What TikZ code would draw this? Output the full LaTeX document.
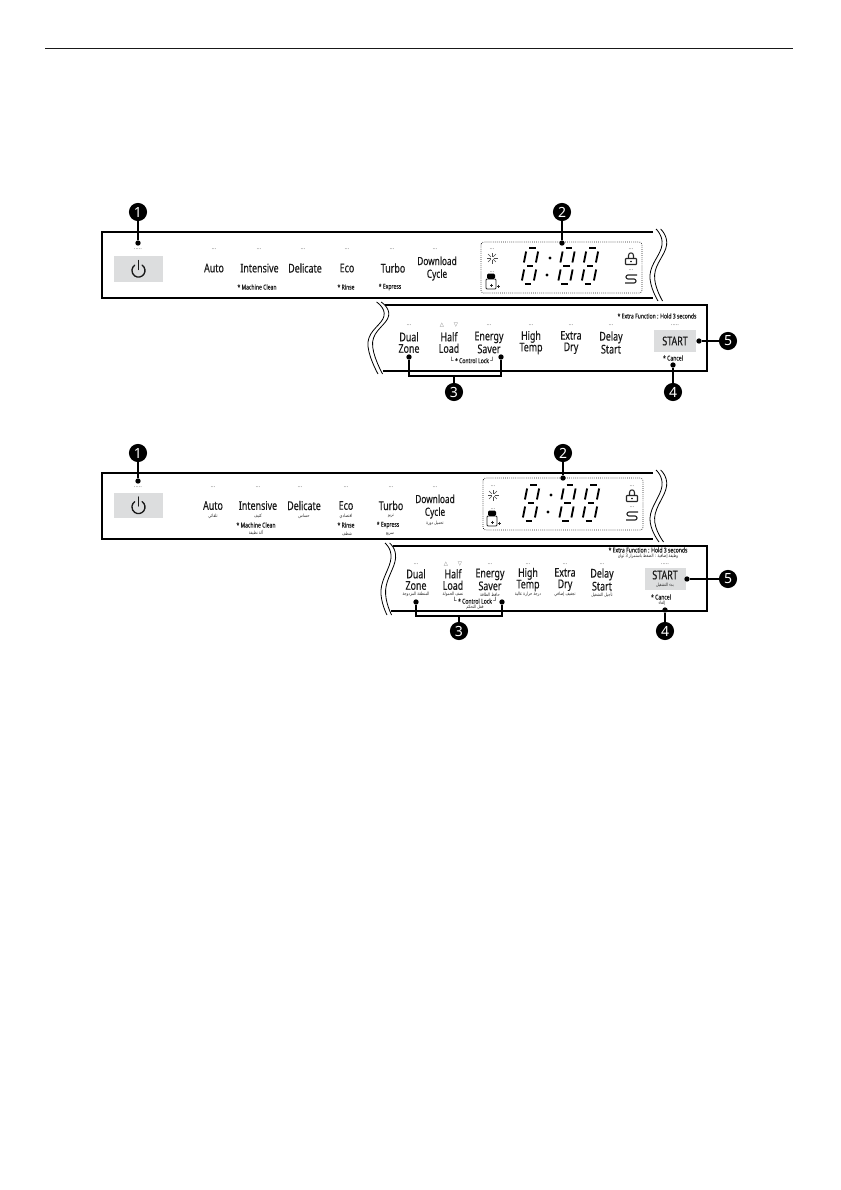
\documentclass[tikz,border=0pt]{standalone}
\usepackage{fontspec}
\setmainfont{Noto Sans}
\newfontfamily\cond[FakeStretch=0.74,FakeBold=0.25]{Noto Sans}
\newfontfamily\condsub[FakeStretch=0.76,FakeBold=0.1]{Noto Sans}
\newfontfamily\bubfont{Noto Sans}
\newfontfamily\arabicfont[Script=Arabic,FakeStretch=0.8]{DejaVu Sans}
\newfontfamily\symfont{DejaVu Sans}
\TeXXeTstate=1
\newcounter{nn}
\definecolor{boxgray}{HTML}{DCDDDE}
\definecolor{dotgray}{HTML}{6A6A6A}
\tikzset{
  lab/.style={inner sep=0pt,outer sep=0pt,align=center,font=\cond\fontsize{9pt}{8.6pt}\selectfont,text=black!90},
  sublab/.style={inner sep=0pt,outer sep=0pt,align=center,font=\condsub\fontsize{5pt}{5pt}\selectfont,text=black!90},
  arlab/.style={inner sep=0pt,outer sep=0pt,align=center,font=\arabicfont\fontsize{3.4pt}{4pt}\selectfont,text=black!85},
  dotlab/.style={inner sep=0pt,outer sep=0pt,font=\fontsize{4.5pt}{4.5pt}\selectfont,text=dotgray},
  bubble/.style={circle,fill=black,text=white,inner sep=0pt,minimum size=13.6pt,font=\bubfont\bfseries\fontsize{10.5pt}{10.5pt}\selectfont},
  leaddot/.style={circle,fill=black,inner sep=0pt,minimum size=4pt},
  leader/.style={line width=0.85pt,black},
  panel/.style={line width=0.8pt,black},
  wavy/.style={line width=0.6pt,black},
  dashbox/.style={line width=0.55pt,densely dotted,rounded corners=2pt,black!85},
  seg/.style={line width=1.4pt,black},
  icon/.style={line width=0.45pt,black!85},
  graybox/.style={fill=boxgray,draw=none,inner sep=0pt,outer sep=0pt}
}
\newcommand\Lb[3]{\stepcounter{nn}\node[lab] (l\thenn) at (#1,#2) {#3};}
\newcommand\Sb[3]{\stepcounter{nn}\node[sublab] (s\thenn) at (#1,#2) {#3};}
\newcommand\Ab[3]{\stepcounter{nn}\node[arlab] (a\thenn) at (#1,#2) {#3};}
\newcommand\Db[3]{\stepcounter{nn}\node[dotlab] (d\thenn) at (#1,#2) {#3};}
\newcommand\Tri[2]{\stepcounter{nn}\node[dotlab,font=\symfont\fontsize{4pt}{4pt}\selectfont] (d\thenn) at (#1,325) {△};\stepcounter{nn}\node[dotlab,font=\symfont\fontsize{4pt}{4pt}\selectfont] (d\thenn) at (#2,325) {▽};}
\newcommand\TriB[2]{\stepcounter{nn}\node[dotlab,font=\symfont\fontsize{4pt}{4pt}\selectfont] (d\thenn) at (#1,564) {△};\stepcounter{nn}\node[dotlab,font=\symfont\fontsize{4pt}{4pt}\selectfont] (d\thenn) at (#2,564) {▽};}
\newcommand\Wave[1]{%
  \foreach \s in {0,4.6}{
    \draw[wavy,shift={(\s,0)}] plot[smooth,tension=0.75] coordinates {#1};
  }}
\newcommand\SegDigit[2]{% centre x, top y
  \begin{scope}[shift={(#1,#2)}]
    \draw[seg] (-1,0)--(5.5,0);
    \draw[seg] (-3.2,18)--(3.2,18);
    \draw[seg] (-5.5,36)--(1,36);
    \draw[seg] (-3.9,3.5)--(-6.1,14.5);
    \draw[seg] (8.1,3.5)--(5.9,14.5);
    \draw[seg] (-5.9,21.5)--(-8.1,32.5);
    \draw[seg] (6.1,21.5)--(3.9,32.5);
  \end{scope}}
\newcommand\Display[2]{% offset x,y relative to the first panel
  \begin{scope}[shift={(#1,#2)}]
    \SegDigit{530}{248}\SegDigit{566.5}{248}\SegDigit{590}{248}
    \fill (550,258) circle (1.6);
    \fill (547,275) circle (1.6);
    % sun
    \foreach \a in {0,45,...,315}{\draw[icon,black!70] (492,258)++(\a:1.5)--++(\a:4);}
    \Db{492}{249}{...}
    % tub
    \Db{492}{272}{...}
    \draw[icon,line width=0.7pt,rounded corners=0.8] (486,279)--(486,289)--(496,289)--(496,279)--cycle;
    \fill[rounded corners=1] (487,273.5) rectangle (495,279);
    \draw[icon] (490,285)--(493,285) (491.5,283.5)--(491.5,286.5);
    \draw[icon,line width=0.7pt] (497,286)--(500,286) (498.5,284.5)--(498.5,287.5);
    % lock
    \Db{631}{249}{...}
    \draw[icon,line width=0.8pt,rounded corners=0.5] (625.5,258.5)--(625.5,264.5)--(636.5,264.5)--(636.5,258.5)--cycle;
    \draw[icon,line width=0.8pt] (628.5,258.5)--(628.5,255.5) .. controls (628.5,252) and (633.5,252) .. (633.5,255.5)--(633.5,258.5);
    \fill (631,261.5) circle (0.8);
    % S arrows
    \Db{631}{270}{...}
    \draw[icon,line width=0.85pt,rounded corners=1.5] (637,275)--(626,275)--(626,279)--(636,279)--(636,283)--(625,283);
  \end{scope}}
\newcommand\Power[2]{%
  \draw[line width=1pt,line cap=round,black!90] (#1+3.7,#2-5.3) arc[start angle=55,end angle=-235,radius=4.9pt];
  \draw[line width=1pt,line cap=round,black!90] (#1,#2-10)--(#1,#2-1);}
\begin{document}
\begin{tikzpicture}[x=0.75pt,y=-0.75pt]
\useasboundingbox (0,0) rectangle (840,1190);
\fill[white] (0,0) rectangle (840,1190);
\draw[line width=0.75pt,black!90] (45,48)--(793,48);

%%% ---------- first pair of panels ----------
\draw[panel] (653,232)--(102,232)--(102,298)--(653,298);
\Wave{(656,229)(662,245)(650,275)(658,301)}
\node[graybox,minimum width=36.75pt,minimum height=19.5pt] (pow1) at (138.5,269) {};
\Power{138.5}{270.5}
\Db{138}{249}{.....}
\Lb{214}{268}{Auto}
\Lb{259.5}{268}{Intensive}
\Lb{305}{268}{Delicate}
\Lb{347}{268}{Eco}
\Lb{393}{268}{Turbo}
\node[lab,font=\cond\fontsize{8.4pt}{9.6pt}\selectfont] (dl1) at (437,268.5) {Download\\Cycle};
\Db{214}{249}{...}\Db{259}{249}{...}\Db{303}{249}{...}\Db{347}{249}{...}\Db{392}{249}{...}\Db{435}{249}{...}
\Sb{257}{287}{* Machine Clean}
\Sb{346}{287}{* Rinse}
\Sb{390}{287}{* Express}
\draw[dashbox] (481,242) rectangle (642,293);
\Display{0}{0}
\node[bubble] (b1a) at (138,212) {1};
\node[leaddot] (p1a) at (138,243) {};
\draw[leader] (b1a)--(p1a);
\node[bubble] (b2a) at (562,212) {2};
\node[leaddot] (p2a) at (562,243) {};
\draw[leader] (b2a)--(p2a);

\draw[panel] (385,305)--(707,305)--(707,371)--(383,371);
\Wave{(376.5,302)(384,316)(368,342)(378,374)}
\node[graybox,minimum width=31.5pt,minimum height=16.5pt] (st1) at (675,341) {};
\Lb{675}{341}{START}
\Lb{409}{342.5}{Dual\\Zone}
\Lb{449}{342.5}{Half\\Load}
\Lb{489}{342.5}{Energy\\Saver}
\Lb{531}{342.5}{High\\Temp}
\Lb{571}{342.5}{Extra\\Dry}
\Lb{611}{342.5}{Delay\\Start}
\Db{409}{325}{...}\Tri{442}{456}\Db{489}{325}{...}\Db{531}{325}{...}\Db{571}{325}{...}\Db{611}{325}{...}\Db{675}{325}{.....}
\Sb{657}{316}{* Extra Function : Hold 3 seconds}
\Sb{472}{360}{{\symfont└} * Control Lock {\symfont┘}}
\Sb{673}{358}{* Cancel}
\node[bubble] (b3a) at (454,392) {3};
\node[leaddot] (p3a) at (409,357) {};
\node[leaddot] (p3b) at (501,357) {};
\coordinate (j3a) at (454,376);
\draw[leader] (p3a)|-(j3a)-|(p3b);
\draw[leader] (j3a)--(b3a);
\node[bubble] (b4a) at (673,392) {4};
\node[leaddot] (p4a) at (673,365) {};
\draw[leader] (b4a)--(p4a);
\node[bubble] (b5a) at (728,341) {5};
\node[leaddot] (p5a) at (699,341) {};
\draw[leader] (b5a)--(p5a);

%%% ---------- second pair of panels ----------
\draw[panel] (653,473)--(102,473)--(102,539)--(653,539);
\Wave{(656,470)(662,486)(650,518)(659,542)}
\node[graybox,minimum width=36.75pt,minimum height=18.75pt] (pow2) at (138.5,505.5) {};
\Power{138.5}{507}
\Db{138}{487}{.....}
\Lb{213}{505.5}{Auto}
\Lb{258}{505.5}{Intensive}
\Lb{304}{505.5}{Delicate}
\Lb{346}{505.5}{Eco}
\Lb{391}{505.5}{Turbo}
\node[lab,font=\cond\fontsize{8.4pt}{9.6pt}\selectfont] (dl2) at (435,506.5) {Download\\Cycle};
\Db{213}{487}{...}\Db{258}{487}{...}\Db{300}{487}{...}\Db{346}{487}{...}\Db{391}{487}{...}\Db{435}{487}{...}
\Ab{213}{516}{\beginR تلقائي\endR}
\Ab{258}{516}{\beginR كثيف\endR}
\Ab{304}{516}{\beginR حساس\endR}
\Ab{346}{516}{\beginR اقتصادي\endR}
\Ab{391}{516}{\beginR تربو\endR}
\Ab{435}{523}{\beginR تحميل دورة\endR}
\Sb{256}{525}{* Machine Clean}
\Ab{256}{533}{\beginR آلة نظيفة\endR}
\Sb{346}{525}{* Rinse}
\Ab{347}{534}{\beginR شطف\endR}
\Sb{388}{525}{* Express}
\Ab{390}{534}{\beginR سريع\endR}
\draw[dashbox] (483,478) rectangle (643,530);
\Display{1}{237}
\node[bubble] (b1b) at (138,453) {1};
\node[leaddot] (p1b) at (138,481) {};
\draw[leader] (b1b)--(p1b);
\node[bubble] (b2b) at (563,453) {2};
\node[leaddot] (p2b) at (563,478) {};
\draw[leader] (b2b)--(p2b);

\draw[panel] (393,546)--(707,546)--(707,611)--(391,611);
\Wave{(385,543)(391,558)(381,590)(387,615)}
\node[graybox,minimum width=30.75pt,minimum height=16.5pt] (st2) at (665.5,579) {};
\Lb{665}{575}{START}
\Ab{665}{585}{\beginR بدء التشغيل\endR}
\Lb{416}{579.5}{Dual\\Zone}
\Lb{453}{579.5}{Half\\Load}
\Lb{490}{579.5}{Energy\\Saver}
\Lb{528}{579.5}{High\\Temp}
\Lb{565}{579.5}{Extra\\Dry}
\Lb{602}{579.5}{Delay\\Start}
\Ab{416}{594.5}{\beginR المنطقة المزدوجة\endR}
\Ab{453}{594.5}{\beginR نصف الحمولة\endR}
\Ab{490}{594.5}{\beginR حافظ الطاقة\endR}
\Ab{528}{594.5}{\beginR درجة حرارة عالية\endR}
\Ab{565}{594.5}{\beginR تجفيف إضافي\endR}
\Ab{602}{594.5}{\beginR تأجيل التشغيل\endR}
\Db{416}{564}{...}\TriB{446}{460}\Db{490}{564}{...}\Db{528}{564}{...}\Db{565}{564}{...}\Db{602}{564}{...}\Db{665}{564}{.....}
\Sb{648}{550}{* Extra Function : Hold 3 seconds}
\Ab{648}{556.5}{\beginR وظيفة إضافية : الضغط باستمرار 3 ثوان\endR}
\Sb{475}{600.5}{{\symfont└} * Control Lock {\symfont┘}}
\Ab{475}{607.5}{\beginR قفل التحكم\endR}
\Sb{661}{597}{* Cancel}
\Ab{662}{603.5}{\beginR إلغاء\endR}
\node[bubble] (b3b) at (459,631) {3};
\node[leaddot] (p3c) at (416,602) {};
\node[leaddot] (p3d) at (502,602) {};
\coordinate (j3b) at (459,616);
\draw[leader] (p3c)|-(j3b)-|(p3d);
\draw[leader] (j3b)--(b3b);
\node[bubble] (b4b) at (665,631) {4};
\node[leaddot] (p4b) at (665,610) {};
\draw[leader] (b4b)--(p4b);
\node[bubble] (b5b) at (728,579) {5};
\node[leaddot] (p5b) at (687,579) {};
\draw[leader] (b5b)--(p5b);
\end{tikzpicture}
\end{document}
